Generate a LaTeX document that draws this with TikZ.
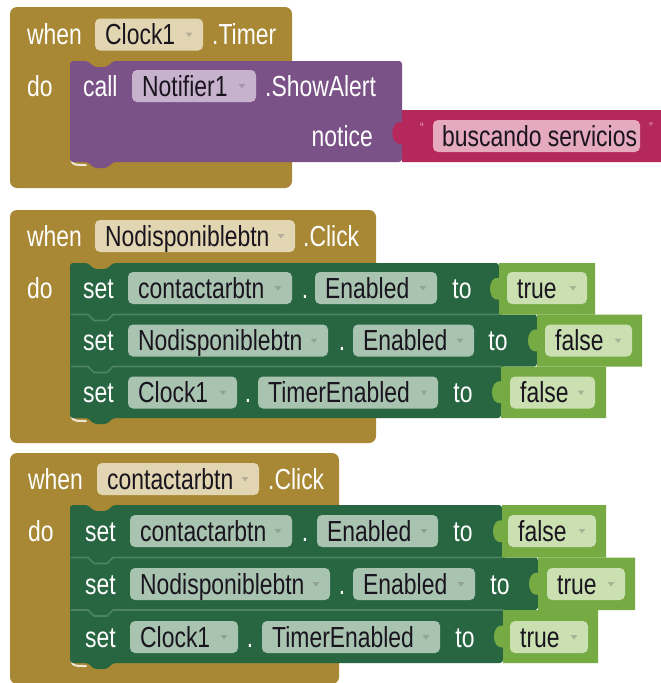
\documentclass[tikz,border=0pt]{standalone}
\usepackage{fontspec}
\setmainfont[FakeStretch=0.79]{Liberation Sans}

\definecolor{evgold}{RGB}{168,136,52}
\definecolor{goldfield}{RGB}{226,214,178}
\definecolor{evpurple}{RGB}{123,82,135}
\definecolor{purplefield}{RGB}{198,178,204}
\definecolor{evpink}{RGB}{180,40,92}
\definecolor{pinkfield}{RGB}{230,170,190}
\definecolor{evgreen}{RGB}{40,102,66}
\definecolor{greenline}{RGB}{78,132,98}
\definecolor{greenfield}{RGB}{168,196,176}
\definecolor{evlime}{RGB}{118,170,66}
\definecolor{limefield}{RGB}{202,224,176}
\definecolor{fieldtxt}{RGB}{25,20,30}

\newcommand\blkfont{\fontsize{29}{32}\selectfont}

% dropdown field: name, left, right, centre y, fill, label
\newcommand\ddfield[6]{%
  \fill[#5, rounded corners=5pt] (#2,#4-16) rectangle (#3,#4+16);
  \node[fld] (#1) at (#2+10,#4) {#6};
  \fill[black!60, opacity=0.35] (#3-17.5,#4-2) -- (#3-10.5,#4-2) -- (#3-14,#4+2.5) -- cycle;
}
% value block plugged into a setter: left, right, top, bottom
\newcommand\valblock[4]{%
  \fill[evlime] (#1,#3) -- (#2,#3) -- (#2,#4) -- (#1,#4) -- (#1,{(#3+#4)/2+11})
    .. controls (#1-12,{(#3+#4)/2+13}) and (#1-12,{(#3+#4)/2-13}) .. (#1,{(#3+#4)/2-11}) -- cycle;
}
% separator between stacked setter rows
\newcommand\rowsep[2]{%
  \draw[greenline, line width=1.6pt] (71,#1) -- (88,#1) -- (94,#1+6) -- (107,#1+6) -- (113,#1) -- (#2,#1);
}

\tikzset{
  lbl/.style={font=\blkfont, text=white, inner sep=0pt, text height=21pt, text depth=0.5pt, anchor=west},
  fld/.style={lbl, text=fieldtxt},
  inner glow/.style={white!80!evgold, line width=2pt, line cap=round}
}

\begin{document}
\begin{tikzpicture}[x=1pt,y=-1pt]
\useasboundingbox (0,0) rectangle (661,683);
\fill[white] (0,0) rectangle (661,683);

% ---------- when Clock1.Timer ----------
\fill[evgold, rounded corners=7pt] (10,7) rectangle (292,188);
\draw[inner glow] (71,150) .. controls (71,165) .. (86,165);
\fill[evpurple, rounded corners=3pt] (70,61) -- (88,61) -- (94,67) -- (107,67) -- (113,61) -- (402,61)
  -- (402,162) -- (113,162) -- (107,168) -- (94,168) -- (88,162) -- (70,162) -- cycle;
\fill[evpink] (402,110) -- (665,110) -- (665,162) -- (402,162) -- (402,144)
  .. controls (389,146) and (389,120) .. (402,122) -- cycle;

\node[lbl] (w1) at (27,34.5) {when};
\ddfield{c1}{95}{203}{34.5}{goldfield}{Clock1}
\node[lbl] (t1) at (212,34.5) {.Timer};
\node[lbl] (do1) at (27,86) {do};
\node[lbl] (call1) at (83,86) {call};
\ddfield{n1}{132}{256}{86}{purplefield}{Notifier1}
\node[lbl] (sa1) at (265,86) {.ShowAlert};
\node[lbl, anchor=east] (nt1) at (373,136) {notice};
\node[font=\fontsize{14}{14}\selectfont, text=pinkfield, inner sep=0pt] (q1) at (422,128) {“};
\fill[pinkfield, rounded corners=5pt] (433,120) rectangle (640,152);
\node[fld] (s1) at (442,136) {buscando servicios};
\node[font=\fontsize{14}{14}\selectfont, text=pinkfield, inner sep=0pt] (q2) at (651,128) {”};

% ---------- when Nodisponiblebtn.Click ----------
\fill[evgold, rounded corners=7pt] (10,210) rectangle (376,443);
\draw[inner glow] (71,405) .. controls (71,421) .. (86,421);
\fill[evgreen, rounded corners=3pt] (70,263) -- (88,263) -- (94,269) -- (107,269) -- (113,263) -- (499,263)
  -- (499,314.5) -- (537,314.5) -- (537,366.5) -- (501,366.5) -- (501,418)
  -- (113,418) -- (107,424) -- (94,424) -- (88,418) -- (70,418) -- cycle;
\rowsep{314.5}{499}
\rowsep{366.5}{501}
\valblock{499}{595}{263}{314.5}
\valblock{537}{642}{314.5}{366.5}
\valblock{501}{606}{366.5}{418}

\node[lbl] (w2) at (27,236) {when};
\ddfield{h2}{95}{295}{236}{goldfield}{Nodisponiblebtn}
\node[lbl] (ck2) at (303,236) {.Click};
\node[lbl] (do2) at (27,288) {do};

\node[lbl] (s2a) at (83,288) {set};
\ddfield{f2a}{128}{292}{288}{greenfield}{contactarbtn}
\node[lbl, anchor=center] (d2a) at (305,288) {.};
\ddfield{p2a}{315}{437}{288}{greenfield}{Enabled}
\node[lbl, anchor=center] (to2a) at (462,288) {to};
\ddfield{v2a}{507}{587}{288}{limefield}{true}

\node[lbl] (s2b) at (83,340.5) {set};
\ddfield{f2b}{128}{328}{340.5}{greenfield}{Nodisponiblebtn}
\node[lbl, anchor=center] (d2b) at (342,340.5) {.};
\ddfield{p2b}{353}{474}{340.5}{greenfield}{Enabled}
\node[lbl, anchor=center] (to2b) at (498,340.5) {to};
\ddfield{v2b}{545}{632}{340.5}{limefield}{false}

\node[lbl] (s2c) at (83,392.5) {set};
\ddfield{f2c}{128}{237}{392.5}{greenfield}{Clock1}
\node[lbl, anchor=center] (d2c) at (248,392.5) {.};
\ddfield{p2c}{258}{438}{392.5}{greenfield}{TimerEnabled}
\node[lbl, anchor=center] (to2c) at (463,392.5) {to};
\ddfield{v2c}{510}{595}{392.5}{limefield}{false}

% ---------- when contactarbtn.Click ----------
\fill[evgold, rounded corners=7pt] (10,453) rectangle (339,684);
\draw[inner glow] (71,650) .. controls (71,666) .. (86,666);
\fill[evgreen, rounded corners=3pt] (70,505) -- (88,505) -- (94,511) -- (107,511) -- (113,505) -- (502,505)
  -- (502,557.5) -- (538,557.5) -- (538,610) -- (503,610) -- (503,663)
  -- (113,663) -- (107,669) -- (94,669) -- (88,663) -- (70,663) -- cycle;
\rowsep{557.5}{502}
\rowsep{610}{503}
\valblock{502}{606}{505}{557.5}
\valblock{538}{635}{557.5}{610}
\valblock{503}{598}{610}{663}

\node[lbl] (w3) at (28,479) {when};
\ddfield{h3}{97}{259}{479}{goldfield}{contactarbtn}
\node[lbl] (ck3) at (268,479) {.Click};
\node[lbl] (do3) at (28,531) {do};

\node[lbl] (s3a) at (85,531) {set};
\ddfield{f3a}{130}{292}{531}{greenfield}{contactarbtn}
\node[lbl, anchor=center] (d3a) at (305,531) {.};
\ddfield{p3a}{317}{438}{531}{greenfield}{Enabled}
\node[lbl, anchor=center] (to3a) at (463,531) {to};
\ddfield{v3a}{508}{596}{531}{limefield}{false}

\node[lbl] (s3b) at (85,584) {set};
\ddfield{f3b}{130}{330}{584}{greenfield}{Nodisponiblebtn}
\node[lbl, anchor=center] (d3b) at (342,584) {.};
\ddfield{p3b}{353}{475}{584}{greenfield}{Enabled}
\node[lbl, anchor=center] (to3b) at (500,584) {to};
\ddfield{v3b}{547}{625}{584}{limefield}{true}

\node[lbl] (s3c) at (85,637) {set};
\ddfield{f3c}{130}{238}{637}{greenfield}{Clock1}
\node[lbl, anchor=center] (d3c) at (250,637) {.};
\ddfield{p3c}{262}{440}{637}{greenfield}{TimerEnabled}
\node[lbl, anchor=center] (to3c) at (465,637) {to};
\ddfield{v3c}{510}{588}{637}{limefield}{true}
\end{tikzpicture}
\end{document}
